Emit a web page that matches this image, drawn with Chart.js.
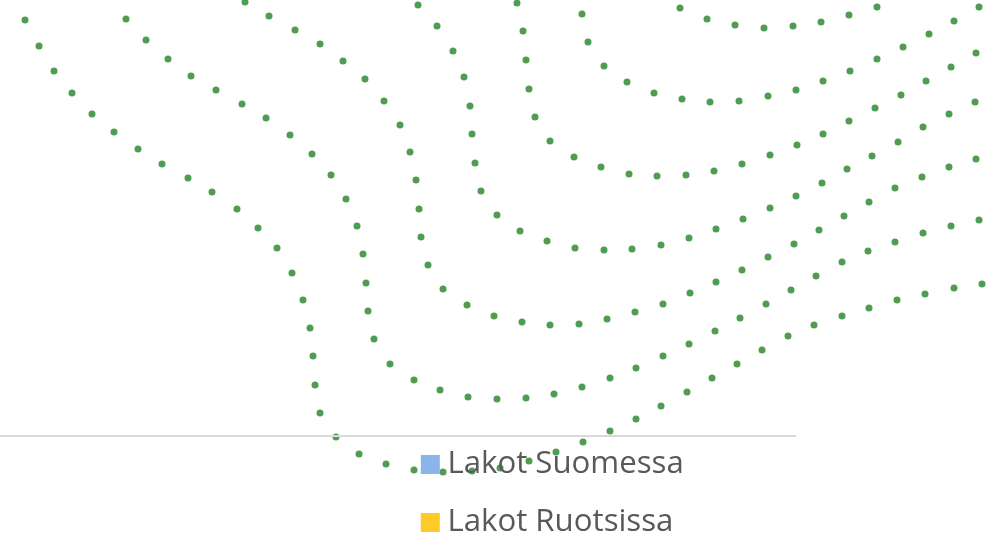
<!DOCTYPE html>
<html>
<head>
<meta charset="utf-8">
<title>Lakot</title>
<script src="https://cdn.jsdelivr.net/npm/chart.js@4.4.1/dist/chart.umd.min.js"></script>
<style>
  html, body { margin: 0; padding: 0; background: #fff; }
  body { width: 986px; height: 540px; position: relative; overflow: hidden; }
  .layer { position: absolute; }
  #bgWrap { left: 0; top: 0; width: 986px; height: 540px; }
  #mainWrap { left: 0; top: 0; width: 796px; height: 440px; }
  #legendWrap { left: 402px; top: 422px; width: 584px; height: 170px; }
</style>
</head>
<body>
<div class="layer" id="bgWrap"><canvas id="bgChart"></canvas></div>
<div class="layer" id="mainWrap"><canvas id="strikeChart"></canvas></div>
<div class="layer" id="legendWrap"><canvas id="legendChart"></canvas></div>

<script>
// Bar data (no bars are visible in the picture)
const categories = [];
const strikesFinland = [];
const strikesSweden = [];
const seriesNames = ["Lakot Suomessa", "Lakot Ruotsissa"];
const seriesColors = ["#8ab4ea", "#ffca28"];

// Decorative dotted curves in the background, [x, y] on a 986 x 540 grid
const curveA = [[25,20],[39,46],[54,71],[72,93],[92,114],[114,132],[138,149],[162,164],[188,178],[212,192],[237,209],[258,228],[277,248],[292,273],[303,300],[310,328],[313,356],[315,385],[320,413],[336,437],[359,454],[386,464],[414,470],[443,472],[472,471],[500,468],[529,461],[556,452],[583,442],[610,431],[636,419],[661,406],[687,392],[712,378],[737,364],[762,350],[788,336],[814,325],[842,316],[869,308],[897,300],[925,294],[954,288],[982,284]];
const curveB = [[126,19],[146,40],[168,59],[191,76],[216,90],[242,104],[266,118],[290,135],[312,154],[331,175],[346,199],[357,226],[363,254],[366,283],[368,311],[374,339],[390,364],[414,380],[440,390],[468,397],[497,399],[526,398],[554,394],[582,387],[610,378],[636,368],[663,356],[689,344],[715,331],[740,318],[766,304],[791,290],[816,276],[842,262],[868,251],[895,242],[923,233],[951,226],[979,220]];
const curveC = [[245,2],[269,16],[295,30],[320,44],[343,61],[365,79],[384,101],[400,125],[410,152],[416,180],[419,209],[421,237],[428,265],[443,289],[467,305],[494,316],[522,322],[550,325],[579,324],[607,319],[635,312],[663,304],[690,293],[716,282],[742,270],[768,257],[794,244],[819,230],[844,216],[869,202],[895,188],[922,177],[949,167],[976,159]];
const curveD = [[418,5],[437,26],[453,51],[464,77],[470,106],[472,134],[475,163],[481,191],[497,215],[520,231],[547,241],[575,248],[604,250],[632,249],[661,245],[689,238],[716,229],[743,219],[770,208],[796,196],[822,183],[847,169],[872,156],[898,142],[923,127],[949,114],[975,102]];
const curveE = [[517,3],[523,31],[526,60],[529,89],[535,117],[550,141],[574,157],[601,167],[629,174],[657,176],[686,175],[714,171],[742,164],[770,155],[797,145],[823,134],[849,121],[875,108],[901,95],[926,81],[951,67],[976,53]];
const curveF = [[582,14],[588,42],[604,66],[627,82],[654,93],[682,99],[710,102],[739,101],[768,96],[796,90],[823,81],[850,71],[877,59],[903,47],[929,34],[954,21],[979,7]];
const curveG = [[680,8],[707,19],[735,25],[764,28],[793,26],[821,22],[849,15],[877,7]];

const dotGreen = "#519c52";
const fontFamily = "'Open Sans', sans-serif";

function barDatasets() {
  return [strikesFinland, strikesSweden].map((values, i) => ({
    label: seriesNames[i],
    data: values,
    backgroundColor: seriesColors[i],
    borderWidth: 0
  }));
}

// background dots
new Chart(document.getElementById("bgChart"), {
  type: "scatter",
  data: {
    datasets: [curveA, curveB, curveC, curveD, curveE, curveF, curveG].map(curve => ({
      data: curve.map(p => ({ x: p[0], y: p[1] })),
      showLine: false,
      pointRadius: 3.5,
      pointBackgroundColor: dotGreen,
      pointBorderWidth: 0,
      clip: false
    }))
  },
  options: {
    animation: false,
    responsive: true,
    maintainAspectRatio: false,
    layout: { padding: 0, autoPadding: false },
    scales: {
      x: { type: "linear", min: 0, max: 986, display: false },
      y: { type: "linear", min: 0, max: 540, reverse: true, display: false }
    },
    plugins: { legend: { display: false }, tooltip: { enabled: false } }
  }
});

// the bar chart itself, only its category axis line shows
new Chart(document.getElementById("strikeChart"), {
  type: "bar",
  data: { labels: categories, datasets: barDatasets() },
  options: {
    animation: false,
    responsive: true,
    maintainAspectRatio: false,
    layout: { padding: { left: 0, right: 0, top: 0, bottom: 4 } },
    scales: {
      x: {
        grid: { display: false, drawTicks: false },
        border: { color: "#d9d9d9", width: 2 },
        ticks: { display: false }
      },
      y: { display: false }
    },
    plugins: { legend: { display: false }, tooltip: { enabled: false } }
  }
});

// legend, one item per row
new Chart(document.getElementById("legendChart"), {
  type: "bar",
  data: { labels: categories, datasets: barDatasets() },
  options: {
    animation: false,
    responsive: true,
    maintainAspectRatio: false,
    layout: { padding: 0 },
    scales: { x: { display: false }, y: { display: false } },
    plugins: {
      legend: {
        position: "left",
        align: "start",
        labels: {
          color: "#595959",
          font: { family: fontFamily, size: 31.2 },
          usePointStyle: true,
          pointStyle: "rect",
          boxWidth: 3,
          boxHeight: 19,
          padding: 26.8
        }
      },
      tooltip: { enabled: false }
    }
  }
});
</script>
</body>
</html>
